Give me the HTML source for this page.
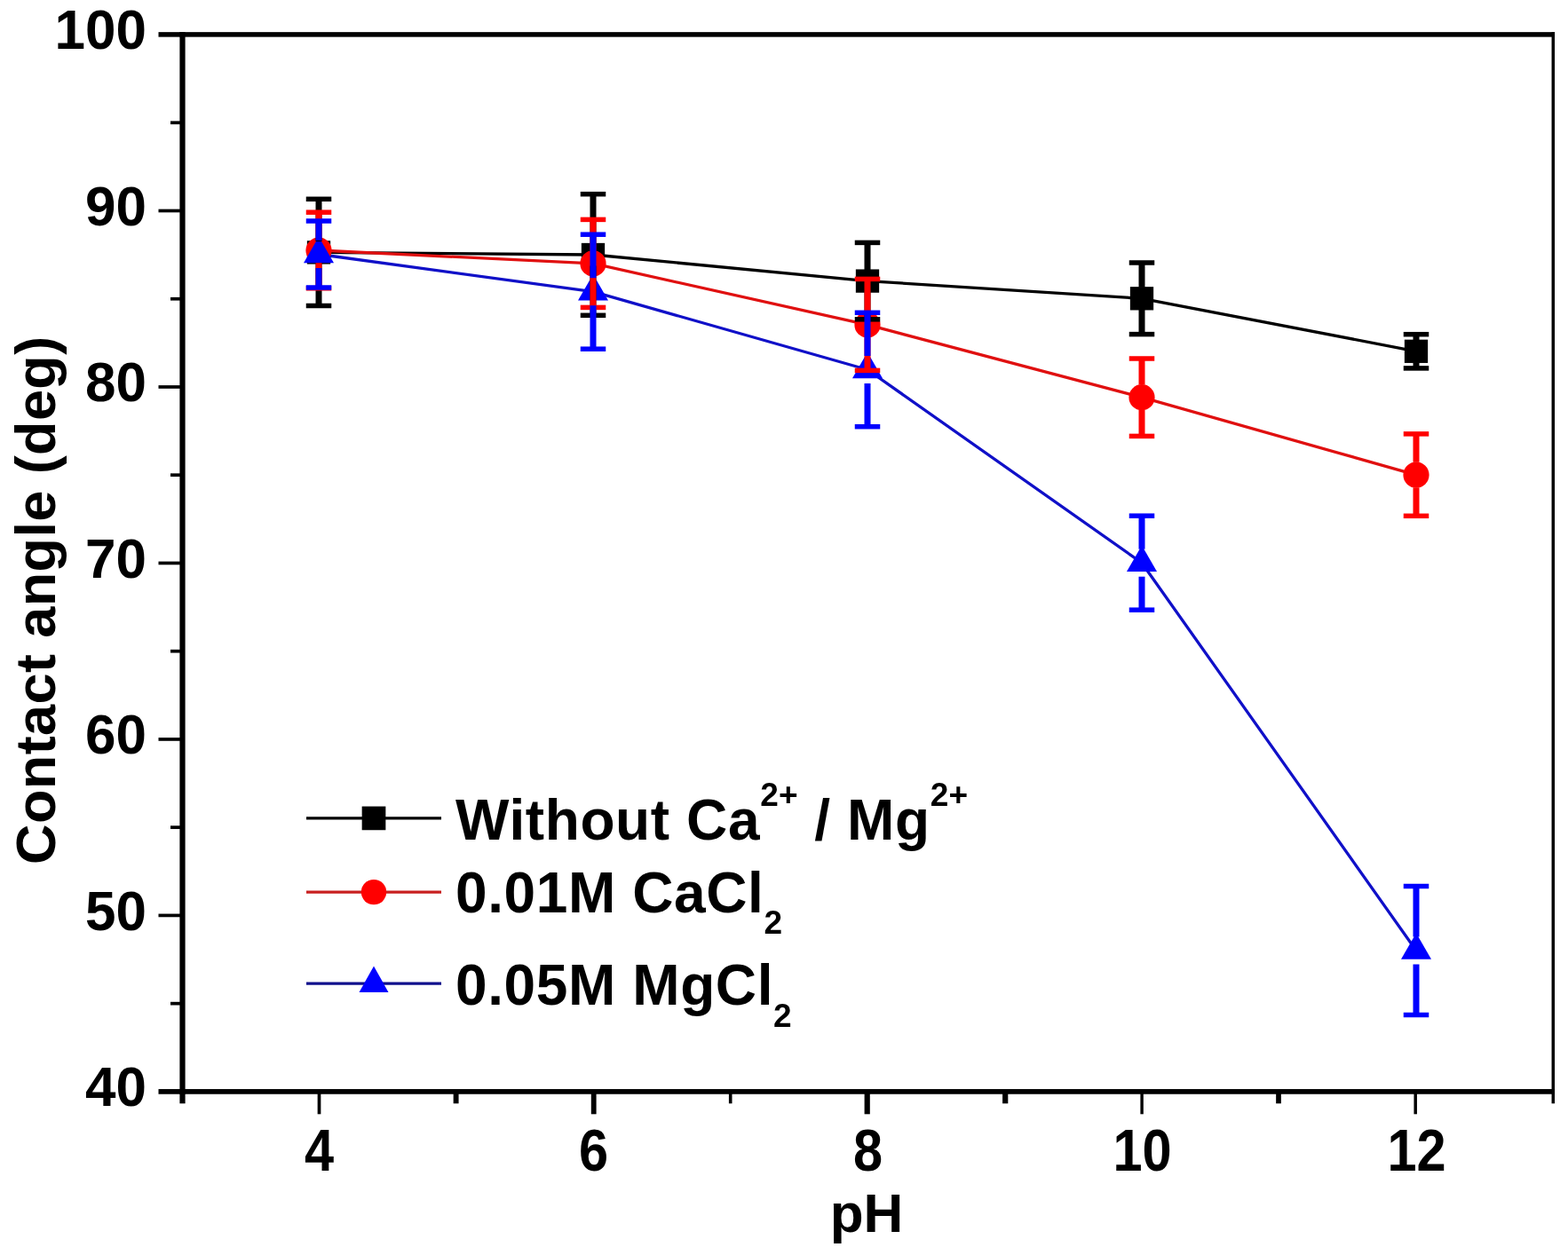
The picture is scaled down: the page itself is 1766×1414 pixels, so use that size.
<!DOCTYPE html>
<html><head><meta charset="utf-8"><title>Contact angle vs pH</title>
<style>html,body{margin:0;padding:0;background:#fff;}svg{display:block;}</style></head>
<body><svg width="1766" height="1414" viewBox="0 0 1766 1414">
<rect width="1766" height="1414" fill="#fff"/>
<rect x="202.40" y="36.15" width="6.2" height="1196.50" fill="#000"/>
<rect x="1747.55" y="36.15" width="3.5" height="1193.75" fill="#000"/>
<rect x="202.40" y="36.15" width="1548.65" height="5.5" fill="#000"/>
<rect x="202.40" y="1227.05" width="1548.65" height="5.7" fill="#000"/>
<rect x="178.5" y="1227.05" width="27.00" height="5.7" fill="#000"/>
<rect x="178.5" y="1029.57" width="27.00" height="3.7" fill="#000"/>
<rect x="178.5" y="831.08" width="27.00" height="3.7" fill="#000"/>
<rect x="178.5" y="632.60" width="27.00" height="3.7" fill="#000"/>
<rect x="178.5" y="434.12" width="27.00" height="3.7" fill="#000"/>
<rect x="178.5" y="235.63" width="27.00" height="3.7" fill="#000"/>
<rect x="178.5" y="36.15" width="27.00" height="5.5" fill="#000"/>
<rect x="192" y="1128.81" width="13.50" height="3.7" fill="#000"/>
<rect x="192" y="930.33" width="13.50" height="3.7" fill="#000"/>
<rect x="192" y="731.84" width="13.50" height="3.7" fill="#000"/>
<rect x="192" y="533.36" width="13.50" height="3.7" fill="#000"/>
<rect x="192" y="334.88" width="13.50" height="3.7" fill="#000"/>
<rect x="192" y="136.39" width="13.50" height="3.7" fill="#000"/>
<rect x="202.40" y="1229.90" width="6.2" height="13.40" fill="#000"/>
<rect x="357.65" y="1229.90" width="3.7" height="25.40" fill="#000"/>
<rect x="510.65" y="1229.90" width="5.9" height="13.40" fill="#000"/>
<rect x="665.80" y="1229.90" width="5.8" height="25.40" fill="#000"/>
<rect x="820.90" y="1229.90" width="3.6" height="13.40" fill="#000"/>
<rect x="973.60" y="1229.90" width="6.2" height="25.40" fill="#000"/>
<rect x="1129.10" y="1229.90" width="6.2" height="13.40" fill="#000"/>
<rect x="1284.40" y="1229.90" width="3.4" height="25.40" fill="#000"/>
<rect x="1437.15" y="1229.90" width="5.7" height="13.40" fill="#000"/>
<rect x="1592.45" y="1229.90" width="3.5" height="25.40" fill="#000"/>
<rect x="1747.55" y="1229.90" width="3.5" height="13.40" fill="#000"/>
<text transform="translate(165,1246.20) scale(1,1.02)" text-anchor="end" style="font-family:'Liberation Sans',Arial,sans-serif;font-weight:bold;font-size:62px">40</text>
<text transform="translate(165,1047.72) scale(1,1.02)" text-anchor="end" style="font-family:'Liberation Sans',Arial,sans-serif;font-weight:bold;font-size:62px">50</text>
<text transform="translate(165,849.23) scale(1,1.02)" text-anchor="end" style="font-family:'Liberation Sans',Arial,sans-serif;font-weight:bold;font-size:62px">60</text>
<text transform="translate(165,650.75) scale(1,1.02)" text-anchor="end" style="font-family:'Liberation Sans',Arial,sans-serif;font-weight:bold;font-size:62px">70</text>
<text transform="translate(165,452.27) scale(1,1.02)" text-anchor="end" style="font-family:'Liberation Sans',Arial,sans-serif;font-weight:bold;font-size:62px">80</text>
<text transform="translate(165,253.78) scale(1,1.02)" text-anchor="end" style="font-family:'Liberation Sans',Arial,sans-serif;font-weight:bold;font-size:62px">90</text>
<text transform="translate(165,55.30) scale(1,1.02)" text-anchor="end" style="font-family:'Liberation Sans',Arial,sans-serif;font-weight:bold;font-size:62px">100</text>
<text transform="translate(359.50,1319.0) scale(0.96,1.09)" text-anchor="middle" style="font-family:'Liberation Sans',Arial,sans-serif;font-weight:bold;font-size:62px">4</text>
<text transform="translate(668.50,1319.0) scale(0.96,1.09)" text-anchor="middle" style="font-family:'Liberation Sans',Arial,sans-serif;font-weight:bold;font-size:62px">6</text>
<text transform="translate(977.50,1319.0) scale(0.96,1.09)" text-anchor="middle" style="font-family:'Liberation Sans',Arial,sans-serif;font-weight:bold;font-size:62px">8</text>
<text transform="translate(1286.50,1319.0) scale(0.96,1.09)" text-anchor="middle" style="font-family:'Liberation Sans',Arial,sans-serif;font-weight:bold;font-size:62px">10</text>
<text transform="translate(1595.50,1319.0) scale(0.96,1.09)" text-anchor="middle" style="font-family:'Liberation Sans',Arial,sans-serif;font-weight:bold;font-size:62px">12</text>
<text x="976" y="1387.8" text-anchor="middle" style="font-family:'Liberation Sans',Arial,sans-serif;font-weight:bold;font-size:62px">pH</text>
<text transform="translate(62.3,974) rotate(-90)" x="0" y="0" style="font-family:'Liberation Sans',Arial,sans-serif;font-weight:bold;font-size:63px;letter-spacing:0.4px">Contact angle (deg)</text>
<polyline points="359.00,284.40 668.00,287.00 977.00,316.60 1286.00,336.30 1595.00,395.80" fill="none" stroke="#000" stroke-width="3.3" stroke-linejoin="round"/>
<polyline points="359.00,282.00 668.00,296.90 977.00,365.90 1286.00,447.70 1595.00,535.10" fill="none" stroke="#e01010" stroke-width="3.3" stroke-linejoin="round"/>
<polyline points="359.00,286.50 668.00,328.70 977.00,416.50 1286.00,634.20 1595.00,1071.00" fill="none" stroke="#1010c8" stroke-width="3.3" stroke-linejoin="round"/>
<rect x="345.85" y="271.25" width="26.3" height="26.3" fill="#000"/>
<rect x="654.85" y="273.85" width="26.3" height="26.3" fill="#000"/>
<rect x="963.85" y="303.45" width="26.3" height="26.3" fill="#000"/>
<rect x="1272.85" y="323.15" width="26.3" height="26.3" fill="#000"/>
<rect x="1581.85" y="382.65" width="26.3" height="26.3" fill="#000"/>
<circle cx="359.00" cy="282.00" r="14.6" fill="#f00"/>
<circle cx="668.00" cy="296.90" r="14.6" fill="#f00"/>
<circle cx="977.00" cy="365.90" r="14.6" fill="#f00"/>
<circle cx="1286.00" cy="447.70" r="14.6" fill="#f00"/>
<circle cx="1595.00" cy="535.10" r="14.6" fill="#f00"/>
<polygon points="359.00,266.83 342.00,296.33 376.00,296.33" fill="#00f"/>
<polygon points="668.00,309.03 651.00,338.53 685.00,338.53" fill="#00f"/>
<polygon points="977.00,396.83 960.00,426.33 994.00,426.33" fill="#00f"/>
<polygon points="1286.00,614.53 1269.00,644.03 1303.00,644.03" fill="#00f"/>
<polygon points="1595.00,1051.33 1578.00,1080.83 1612.00,1080.83" fill="#00f"/>
<rect x="355.50" y="224.30" width="7.0" height="47.60" fill="#000"/>
<rect x="355.50" y="296.90" width="7.0" height="47.60" fill="#000"/>
<rect x="344.75" y="221.55" width="28.5" height="5.5" fill="#000"/>
<rect x="344.75" y="341.75" width="28.5" height="5.5" fill="#000"/>
<rect x="664.50" y="218.70" width="7.0" height="55.80" fill="#000"/>
<rect x="664.50" y="299.50" width="7.0" height="55.80" fill="#000"/>
<rect x="653.75" y="215.95" width="28.5" height="5.5" fill="#000"/>
<rect x="653.75" y="352.55" width="28.5" height="5.5" fill="#000"/>
<rect x="973.50" y="273.40" width="7.0" height="30.70" fill="#000"/>
<rect x="973.50" y="329.10" width="7.0" height="30.70" fill="#000"/>
<rect x="962.75" y="270.65" width="28.5" height="5.5" fill="#000"/>
<rect x="962.75" y="357.05" width="28.5" height="5.5" fill="#000"/>
<rect x="1282.50" y="296.00" width="7.0" height="27.80" fill="#000"/>
<rect x="1282.50" y="348.80" width="7.0" height="27.80" fill="#000"/>
<rect x="1271.75" y="293.25" width="28.5" height="5.5" fill="#000"/>
<rect x="1271.75" y="373.85" width="28.5" height="5.5" fill="#000"/>
<rect x="1591.50" y="376.70" width="7.0" height="6.60" fill="#000"/>
<rect x="1591.50" y="408.30" width="7.0" height="6.60" fill="#000"/>
<rect x="1580.75" y="373.95" width="28.5" height="5.5" fill="#000"/>
<rect x="1580.75" y="412.15" width="28.5" height="5.5" fill="#000"/>
<rect x="355.50" y="239.20" width="7.0" height="28.50" fill="#f00"/>
<rect x="355.50" y="296.30" width="7.0" height="28.50" fill="#f00"/>
<rect x="344.75" y="236.45" width="28.5" height="5.5" fill="#f00"/>
<rect x="344.75" y="322.05" width="28.5" height="5.5" fill="#f00"/>
<rect x="664.50" y="247.40" width="7.0" height="35.20" fill="#f00"/>
<rect x="664.50" y="311.20" width="7.0" height="35.20" fill="#f00"/>
<rect x="653.75" y="244.65" width="28.5" height="5.5" fill="#f00"/>
<rect x="653.75" y="343.65" width="28.5" height="5.5" fill="#f00"/>
<rect x="973.50" y="314.40" width="7.0" height="37.20" fill="#f00"/>
<rect x="973.50" y="380.20" width="7.0" height="37.20" fill="#f00"/>
<rect x="962.75" y="311.65" width="28.5" height="5.5" fill="#f00"/>
<rect x="962.75" y="414.65" width="28.5" height="5.5" fill="#f00"/>
<rect x="1282.50" y="404.00" width="7.0" height="29.40" fill="#f00"/>
<rect x="1282.50" y="462.00" width="7.0" height="29.40" fill="#f00"/>
<rect x="1271.75" y="401.25" width="28.5" height="5.5" fill="#f00"/>
<rect x="1271.75" y="488.65" width="28.5" height="5.5" fill="#f00"/>
<rect x="1591.50" y="488.90" width="7.0" height="31.90" fill="#f00"/>
<rect x="1591.50" y="549.40" width="7.0" height="31.90" fill="#f00"/>
<rect x="1580.75" y="486.15" width="28.5" height="5.5" fill="#f00"/>
<rect x="1580.75" y="578.55" width="28.5" height="5.5" fill="#f00"/>
<rect x="355.50" y="249.00" width="7.0" height="22.00" fill="#00f"/>
<rect x="355.50" y="302.00" width="7.0" height="22.00" fill="#00f"/>
<rect x="344.75" y="246.25" width="28.5" height="5.5" fill="#00f"/>
<rect x="344.75" y="321.25" width="28.5" height="5.5" fill="#00f"/>
<rect x="664.50" y="264.20" width="7.0" height="49.00" fill="#00f"/>
<rect x="664.50" y="344.20" width="7.0" height="49.00" fill="#00f"/>
<rect x="653.75" y="261.45" width="28.5" height="5.5" fill="#00f"/>
<rect x="653.75" y="390.45" width="28.5" height="5.5" fill="#00f"/>
<rect x="973.50" y="352.30" width="7.0" height="48.70" fill="#00f"/>
<rect x="973.50" y="432.00" width="7.0" height="48.70" fill="#00f"/>
<rect x="962.75" y="349.55" width="28.5" height="5.5" fill="#00f"/>
<rect x="962.75" y="477.95" width="28.5" height="5.5" fill="#00f"/>
<rect x="1282.50" y="581.20" width="7.0" height="37.50" fill="#00f"/>
<rect x="1282.50" y="649.70" width="7.0" height="37.50" fill="#00f"/>
<rect x="1271.75" y="578.45" width="28.5" height="5.5" fill="#00f"/>
<rect x="1271.75" y="684.45" width="28.5" height="5.5" fill="#00f"/>
<rect x="1591.50" y="998.50" width="7.0" height="57.00" fill="#00f"/>
<rect x="1591.50" y="1086.50" width="7.0" height="57.00" fill="#00f"/>
<rect x="1580.75" y="995.75" width="28.5" height="5.5" fill="#00f"/>
<rect x="1580.75" y="1140.75" width="28.5" height="5.5" fill="#00f"/>
<line x1="345" y1="921.9" x2="497" y2="921.9" stroke="#000" stroke-width="3.3"/>
<rect x="407.65" y="908.55" width="26.7" height="26.7" fill="#000"/>
<line x1="345" y1="1005.1" x2="497" y2="1005.1" stroke="#c82020" stroke-width="3.3"/>
<circle cx="421.00" cy="1005.10" r="14.2" fill="#f00"/>
<line x1="345" y1="1108.2" x2="497" y2="1108.2" stroke="#10108c" stroke-width="3.3"/>
<polygon points="421.00,1088.53 404.50,1118.03 437.50,1118.03" fill="#00f"/>
<text x="513" y="945.5" style="font-family:'Liberation Sans',Arial,sans-serif;font-weight:bold;font-size:64px;letter-spacing:0.6px">Without Ca<tspan dy="-37.5" style="font-size:37px;letter-spacing:0.3px">2+</tspan><tspan dy="37.5"> / Mg</tspan><tspan dy="-37.5" style="font-size:37px;letter-spacing:0.3px">2+</tspan></text>
<text x="513" y="1027.8" style="font-family:'Liberation Sans',Arial,sans-serif;font-weight:bold;font-size:64px;letter-spacing:0.6px">0.01M CaCl<tspan dy="24.6" style="font-size:37px;letter-spacing:0.3px">2</tspan></text>
<text x="513" y="1132" style="font-family:'Liberation Sans',Arial,sans-serif;font-weight:bold;font-size:64px;letter-spacing:0.6px">0.05M MgCl<tspan dy="24.6" style="font-size:37px;letter-spacing:0.3px">2</tspan></text>
</svg></body></html>
